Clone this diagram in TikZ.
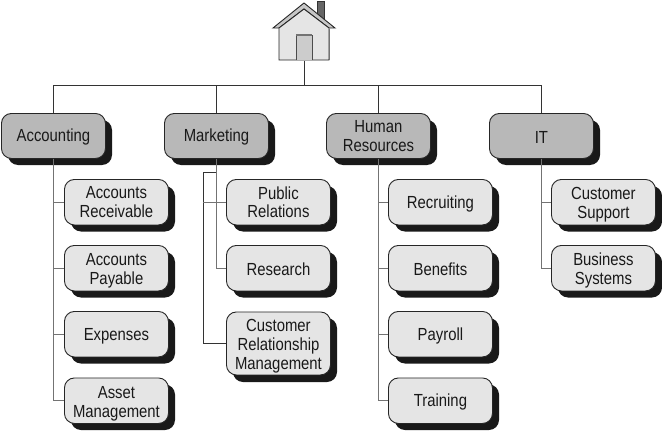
\documentclass[tikz,border=0pt]{standalone}
\usepackage{fontspec}
\setmainfont[FakeStretch=0.85]{Liberation Sans}
\tikzset{
 x=1pt,y=-1pt,
 basebox/.style={draw=black!85,line width=0.9pt,rounded corners=10pt,minimum width=104pt,align=center,anchor=north west,inner sep=0pt,text=black!90,font=\fontsize{17.5pt}{18.8pt}\selectfont,execute at begin node={\rule{0pt}{15.5pt}}},
 parentbox/.style={basebox,fill=black!28,minimum height=45pt},
 childbox/.style={basebox,fill=black!10,minimum height=45.5pt},
 tallbox/.style={basebox,fill=black!10,minimum height=63pt},
 grayline/.style={draw=black!55,line width=1.1pt},
 darkline/.style={draw=black!80,line width=0.9pt},
}
\newcommand{\pbox}[4]{% name,x,y,text
 \fill[black!90,rounded corners=10pt] (#2+7,#3+7) rectangle (#2+111,#3+52);
 \node[parentbox] (#1) at (#2,#3) {#4};}
\newcommand{\cbox}[4]{%
 \fill[black!90,rounded corners=10pt] (#2+7,#3+7) rectangle (#2+111,#3+52.5);
 \node[childbox] (#1) at (#2,#3) {#4};}
\newcommand{\lowerA}{\rule{0pt}{17pt}}
\newcommand{\lowerB}{\rule{0pt}{18pt}}
\begin{document}
\begin{tikzpicture}
\useasboundingbox (0,0) rectangle (662,431);
% house
\node[minimum width=50pt,minimum height=1pt,inner sep=0pt] (house) at (304,60) {};
\coordinate (bus) at (304,85.5);
\coordinate (mkbr) at (203,172);
% connectors
\draw[darkline] (house.south) -- (bus);
\draw[darkline] (53,85.5) -- (541,85.5);
% chimney
\draw[black!80,fill=black!60,line width=0.9pt] (317,1.5) rectangle (324,20);
% roof
\draw[black!85,fill=black!22,line width=0.9pt,line join=miter] (273,28) -- (304,3) -- (335,28) -- (329,28) -- (304,9) -- (279,28) -- cycle;
% body
\draw[black!85,fill=black!10,line width=0.9pt] (279,60) -- (279,28) -- (304,9) -- (329,28) -- (329,60) -- cycle;
\draw[black!55,line width=0.9pt] (329,29) -- (329,60);
% door
\draw[black!70,fill=black!20,line width=0.9pt] (296,60) -- (296,35) -- (312,35) -- (312,60);
\draw[black!55,line width=1.1pt] (296,35) -- (312,35);
% boxes
\pbox{acc}{1}{113}{Accounting}
\pbox{mkt}{164}{113}{Marketing}
\pbox{hr}{326}{113}{Human\\Resources}
\pbox{it}{489}{113}{IT}
\cbox{ar}{64}{179}{Accounts\\Receivable}
\cbox{ap}{64}{245}{\lowerA Accounts\\Payable}
\cbox{ex}{64}{311}{Expenses}
\cbox{am}{64}{377.5}{\lowerB Asset\\Management}
\cbox{pr}{226}{179}{Public\\Relations}
\cbox{re}{226}{245}{Research}
\fill[black!90,rounded corners=10pt] (233,318) rectangle (337,382);
\node[tallbox] (crm) at (226,311.5) {\lowerB Customer\\Relationship\\Management};
\cbox{rc}{388}{179}{Recruiting}
\cbox{be}{388}{245}{Benefits}
\cbox{pa}{388}{311}{Payroll}
\cbox{tr}{388}{377.5}{Training}
\cbox{cs}{551}{179}{\lowerA Customer\\Support}
\cbox{bs}{551}{245}{\lowerA Business\\Systems}
% connectors to the tops
\draw[darkline] (bus) -| (acc.north);
\draw[darkline] (bus) -| (mkt.north);
\draw[darkline] (bus) -| (hr.north);
\draw[darkline] (bus) -| (it.north);
% trunks
\draw[grayline] (acc.south) |- (ar.west);
\draw[grayline] (acc.south) |- (ap.west);
\draw[grayline] (acc.south) |- (ex.west);
\draw[grayline] (acc.south) |- (am.west);
\draw[grayline] (mkt.south) |- (pr.west);
\draw[grayline] (mkt.south) |- (re.west);
\draw[darkline] (mkt.south |- mkbr) -- (mkbr) |- (crm.west);
\draw[grayline] (mkbr |- pr.west) -- (pr.west);
\draw[grayline] (hr.south) |- (rc.west);
\draw[grayline] (hr.south) |- (be.west);
\draw[grayline] (hr.south) |- (pa.west);
\draw[grayline] (hr.south) |- (tr.west);
\draw[grayline] (it.south) |- (cs.west);
\draw[grayline] (it.south) |- (bs.west);
\end{tikzpicture}
\end{document}
